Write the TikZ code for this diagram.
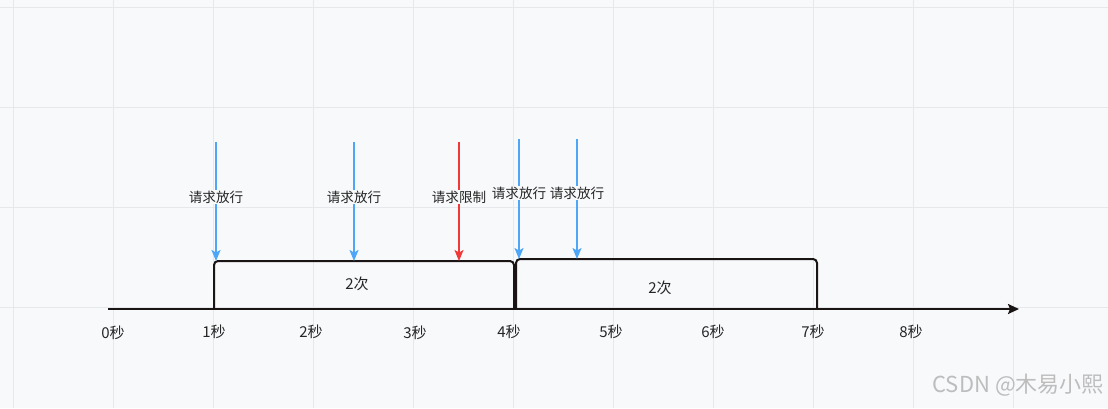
\documentclass[tikz,border=0pt]{standalone}
\usepackage{fontspec}
\setmainfont{Noto Sans CJK SC}
\usetikzlibrary{arrows.meta}
\definecolor{bg}{HTML}{F8F9FB}
\definecolor{gridc}{HTML}{E6E8EB}
\definecolor{okblue}{HTML}{4DA6F7}
\definecolor{nored}{HTML}{F03A3A}
\definecolor{axisc}{HTML}{1A1414}
\definecolor{wmark}{HTML}{BDBDBD}
\tikzset{
  lbl/.style={font=\fontsize{13.6}{15}\selectfont, text=black!85, fill=bg, inner sep=1pt},
  tick/.style={font=\fontsize{15}{17}\selectfont, text=black!85, inner sep=0pt},
  okarrow/.style={draw=okblue, line width=1.6pt, -{Stealth[length=11pt,width=9pt,inset=2.5pt]}},
  noarrow/.style={draw=nored, line width=1.6pt, -{Stealth[length=11pt,width=9pt,inset=2.5pt]}},
  window/.style={draw=axisc, line width=2pt, rounded corners=4pt},
  axis/.style={draw=axisc, line width=2pt, -{Stealth[length=11pt,width=10pt,inset=2pt]}},
}
\begin{document}
\begin{tikzpicture}[x=1pt,y=-1pt]
\useasboundingbox (0,0) rectangle (1108,408);
\fill[bg] (0,0) rectangle (1108,408);
% grid
\foreach \gx in {13,113,...,1113} \draw[gridc, line width=0.8pt] (\gx,0) -- (\gx,408);
\foreach \gy in {7,107,207,307} \draw[gridc, line width=0.8pt] (0,\gy) -- (1108,\gy);
% axis
\coordinate (ax0) at (108,309);
\coordinate (ax1) at (1019,309);
\draw[axis] (ax0) -- (ax1);
% windows
\coordinate (w1a) at (214,309);
\coordinate (w1b) at (214,261);
\coordinate (w1c) at (514,261);
\coordinate (w1d) at (514,309);
\draw[window] (w1a) -- (w1b) -- (w1c) -- (w1d);
\coordinate (w2a) at (516,309);
\coordinate (w2b) at (516,259);
\coordinate (w2c) at (817,259);
\coordinate (w2d) at (817,309);
\draw[window] (w2a) -- (w2b) -- (w2c) -- (w2d);
\node[tick] (c1) at (357,284) {2次};
\node[tick] (c2) at (660,288) {2次};
% tick labels
\node[tick] (t0) at (113,333) {0秒};
\node[tick] (t1) at (214,332) {1秒};
\node[tick] (t2) at (311,332) {2秒};
\node[tick] (t3) at (415,333) {3秒};
\node[tick] (t4) at (509,332) {4秒};
\node[tick] (t5) at (611,332) {5秒};
\node[tick] (t6) at (713,332) {6秒};
\node[tick] (t7) at (813,332) {7秒};
\node[tick] (t8) at (911,332) {8秒};
% request arrows
\coordinate (r1s) at (216,142); \coordinate (r1e) at (216,261);
\coordinate (r2s) at (354,142); \coordinate (r2e) at (354,261);
\coordinate (r3s) at (459,142); \coordinate (r3e) at (459,261);
\coordinate (r4s) at (519,139); \coordinate (r4e) at (519,259);
\coordinate (r5s) at (577,139); \coordinate (r5e) at (577,259);
\draw[okarrow] (r1s) -- (r1e);
\draw[okarrow] (r2s) -- (r2e);
\draw[noarrow] (r3s) -- (r3e);
\draw[okarrow] (r4s) -- (r4e);
\draw[okarrow] (r5s) -- (r5e);
\node[lbl] (l1) at (216,197) {请求放行};
\node[lbl] (l2) at (354,197) {请求放行};
\node[lbl] (l3) at (459,197) {请求限制};
\node[lbl] (l4) at (519,193) {请求放行};
\node[lbl] (l5) at (577,193) {请求放行};
% watermark
\node[font=\fontsize{22}{24}\selectfont, text=wmark, anchor=east, inner sep=0pt] (wm) at (1104,385) {CSDN @木易小熙};
\end{tikzpicture}
\end{document}
